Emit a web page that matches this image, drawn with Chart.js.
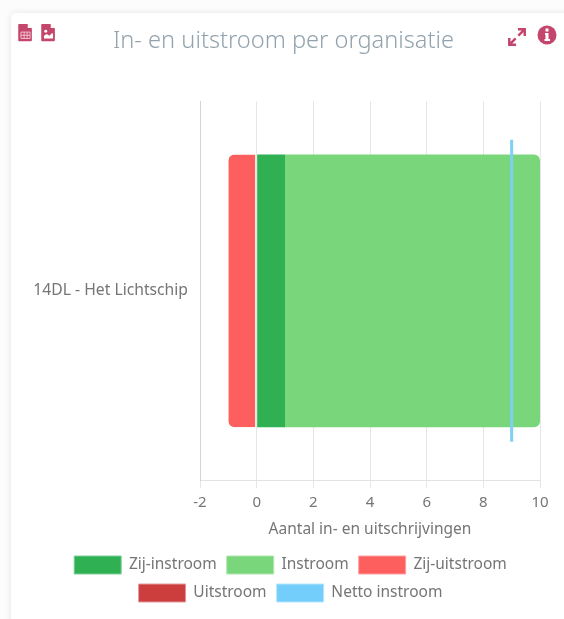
<!DOCTYPE html>
<html><head><meta charset="utf-8">
<script src="https://cdn.jsdelivr.net/npm/chart.js@4/dist/chart.umd.min.js"></script>
<style>
html,body{margin:0;padding:0;background:#fcfcfc;width:564px;height:619px;overflow:hidden}
#card{position:absolute;left:11px;top:13px;width:570px;height:640px;background:#fff;border-radius:5px;box-shadow:0 0 7px rgba(0,0,0,.10)}
#wrap{position:absolute;left:0;top:0;width:564px;height:619px}
svg{position:absolute}
</style></head><body>
<div id="card"></div>
<div id="wrap"><canvas id="c"></canvas></div>
<svg style="left:18px;top:23px" width="15" height="20" viewBox="0 0 16 22"><path fill="#c5466d" d="M1 1h9l5 5v13a1 1 0 0 1-1 1H1a1 1 0 0 1-1-1V2a1 1 0 0 1 1-1z"/><path fill="#fff" d="M10.500 1.500l4 4h-4z"/><path fill="none" stroke="#f2c9d5" stroke-width="1" d="M3 10h10v7H3zM3 13.500h10M6.500 10v7M9.800 10v7"/></svg>
<svg style="left:41px;top:23px" width="15" height="20" viewBox="0 0 16 22"><path fill="#c5466d" d="M1 1h9l5 5v13a1 1 0 0 1-1 1H1a1 1 0 0 1-1-1V2a1 1 0 0 1 1-1z"/><path fill="#fff" d="M10.500 1.500l4 4h-4zM3 17v-3l3-2 3 2 3-3 1 1v5z"/><circle cx="5" cy="9" r="1.600" fill="#fff"/></svg>
<svg style="left:507px;top:27px" width="20" height="20" viewBox="0 0 22 22"><path fill="none" stroke="#c5466d" stroke-width="2.700" d="M3.500 18.500L9.500 12.500M12.500 9.500L18.500 3.500M12 2.500h7.500V10M2.500 12v7.500H10"/></svg>
<svg style="left:537px;top:25px" width="20" height="20" viewBox="0 0 20 20"><circle cx="10" cy="10" r="9.500" fill="#c5466d"/><path fill="#fff" d="M8 8h3.500v6H13v2H7.500v-2H8.500v-4H8zM8.500 3.500h3v3h-3z"/></svg>
<script>
const categories = ['14DL - Het Lichtschip'];
const zijInstroom = [1];
const instroom = [9];
const zijUitstroom = [-1];
const uitstroom = [0];
const nettoInstroom = [9];
const xTicks = [-2, 0, 2, 4, 6, 8, 10];
const legendEdges = ['#7fd09a', '#b0e8b0', '#fea0a0', '#e59a9a', '#b5e5fd'];

const shiftBlocks = {
  id:'shiftBlocks',
  afterLayout(chart){
    chart.titleBlock.left += 13.5; chart.titleBlock.right += 13.5;
    chart.legend.left += 20.5; chart.legend.right += 20.5;
  }
};

new Chart(document.getElementById('c'), {
  plugins:[shiftBlocks],
  data: {
    labels: categories,
    datasets: [
      {type:'bar', label:'Zij-instroom', data:zijInstroom, backgroundColor:'#2fb153', stack:'s', order:2, borderWidth:0},
      {type:'bar', label:'Instroom', data:instroom, backgroundColor:'#7ad67a', stack:'s', order:2, borderWidth:0,
       borderRadius:{topRight:6,bottomRight:6,topLeft:0,bottomLeft:0}, borderSkipped:false},
      {type:'bar', label:'Zij-uitstroom', data:zijUitstroom, backgroundColor:'#fd5f5f', borderColor:'#ffffff', stack:'s', order:2, borderWidth:{left:0,top:0,bottom:0,right:1},
       borderRadius:{topLeft:6,bottomLeft:6,topRight:0,bottomRight:0}, borderSkipped:false},
      {type:'bar', label:'Uitstroom', data:uitstroom, backgroundColor:'#cc3e3e', stack:'s', order:2, borderWidth:0},
      {type:'line', label:'Netto instroom', data:nettoInstroom, backgroundColor:'#74cefc', borderColor:'#7ed0f6', showLine:false, order:1,
       pointStyle:'line', pointRotation:90, pointRadius:151, pointBorderWidth:3, pointBorderColor:'#7ed0f6', pointHoverRadius:151}
    ]
  },
  options: {
    indexAxis:'y', responsive:true, maintainAspectRatio:false, animation:false,
    layout:{autoPadding:false, padding:{top:0,right:24,bottom:7,left:0}},
    scales:{
      x:{type:'linear', stacked:true, min:-2, max:10,
        afterBuildTicks(s){ s.ticks = xTicks.map(v=>({value:v})); },
        grid:{color:'#e6e6e6', lineWidth:1, tickLength:8, drawTicks:true},
        border:{color:'#e2e2e2', width:1},
        ticks:{color:'#757575', font:{family:'"Noto Sans"', size:15}, padding:5, maxRotation:0},
        title:{display:true, text:'Aantal in- en uitschrijvingen', color:'#757575', font:{family:'"Noto Sans"', size:15.5}, padding:{top:4,bottom:7}}
      },
      y:{stacked:true,
        afterFit(s){ s.width = 200; },
        grid:{display:false},
        border:{color:'#d4d4d4', width:1},
        ticks:{color:'#757575', font:{family:'"Noto Sans"', size:15.7}, padding:4}
      }
    },
    plugins:{
      title:{display:true, text:'In- en uitstroom per organisatie', color:'#93a3ad',
        font:{family:'"Noto Sans"', size:23.6, weight:'300'}, padding:{top:27,bottom:46}},
      legend:{position:'bottom',
        labels:{boxWidth:47, boxHeight:18, padding:10, color:'#757575', font:{family:'"Noto Sans"', size:15.5},
          generateLabels(chart){
            return chart.data.datasets.map((d,i)=>({text:d.label, fillStyle:d.backgroundColor, strokeStyle:legendEdges[i], lineWidth:1, datasetIndex:i, fontColor:'#757575', hidden:false}));
          }}
      },
      tooltip:{enabled:false}
    }
  }
});
</script>
</body></html>
